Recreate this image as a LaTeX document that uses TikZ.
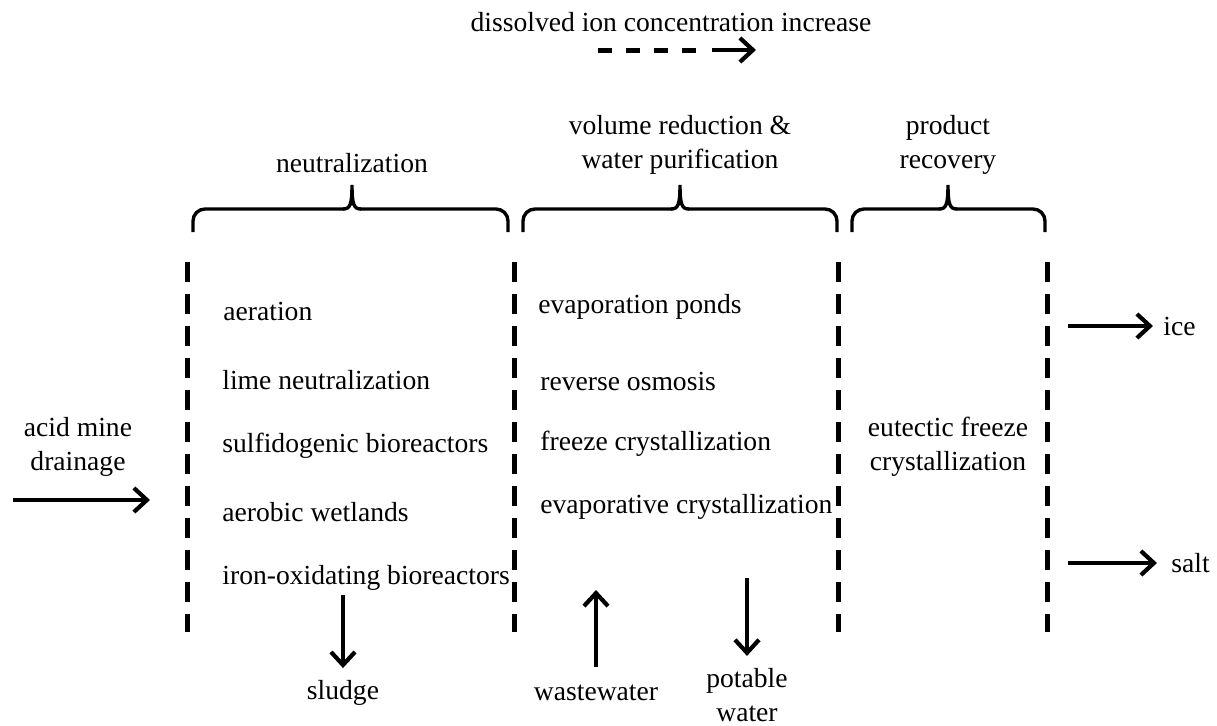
\documentclass[tikz,border=0pt]{standalone}
\usepackage{fontspec}
\setmainfont{Liberation Serif}
\usetikzlibrary{arrows.meta}
\tikzset{
  lbl/.style={font=\fontsize{13.8pt}{17pt}\selectfont, inner sep=0pt, align=center},
  item/.style={lbl, anchor=west},
  stagebrace/.style={line width=1.7pt, rounded corners=6pt},
  divider/.style={line width=2.5pt, dash pattern=on 10pt off 6pt},
  flowarrow/.style={-{Straight Barb[length=6.5pt,width=12pt,line width=2.1pt]}, line width=1.8pt}
}
% one curly bracket over a stage: left x, right x, tip x
\newcommand{\stagebr}[3]{%
  \draw[stagebrace] (#1,232) |- (#3-8,209);
  \draw[stagebrace] (#2,232) |- (#3+8,209);
  \draw[line width=1.7pt] (#3-9,209) .. controls (#3-2,209) and (#3,205) .. (#3,185)
    .. controls (#3,205) and (#3+2,209) .. (#3+9,209);
}
\begin{document}
\begin{tikzpicture}[x=0.5pt, y=-0.5pt]
  \useasboundingbox (0,0) rectangle (1217,725);

  % trend arrow
  \node[lbl] (trend) at (671,22) {dissolved ion concentration increase};
  \coordinate (t0) at (598,50);
  \coordinate (t1) at (700,50);
  \coordinate (t2) at (756,50);
  \draw[line width=2.5pt, dash pattern=on 7pt off 7pt] (t0) -- (t1);
  \draw[flowarrow] ([xshift=6pt]t1) -- (t2);

  % stage brackets
  \stagebr{193}{508}{352}
  \stagebr{523}{837}{680}
  \stagebr{852}{1045}{948}
  \node[lbl] (neut) at (352,163) {neutralization};
  \node[lbl] (vol) at (680,145) {volume reduction \&\\water purification};
  \node[lbl] (prod) at (948,145) {product\\recovery};

  % stage dividers
  \foreach \name/\x in {d1/187, d2/514, d3/838, d4/1047} {
    \coordinate (\name top) at (\x,262);
    \coordinate (\name bot) at (\x,632);
    \draw[divider] (\name top) -- (\name bot);
  }

  % neutralization options
  \node[item] (aer) at (223,311) {aeration};
  \node[item] (lime) at (222,380) {lime neutralization};
  \node[item] (sulf) at (222,446) {sulfidogenic bioreactors};
  \node[item] (wet) at (222,512) {aerobic wetlands};
  \node[item] (iron) at (222,578) {iron-oxidating bioreactors};

  % volume reduction options
  \node[item] (pond) at (538,307) {evaporation ponds};
  \node[item] (ro) at (540,381) {reverse osmosis};
  \node[item] (fc) at (540,444) {freeze crystallization};
  \node[item] (ec) at (540,507) {evaporative crystallization};

  % product recovery
  \node[lbl] (efc) at (948,447) {eutectic freeze\\crystallization};

  % inputs and outputs
  \node[lbl] (amd) at (78,447) {acid mine\\drainage};
  \coordinate (amd0) at (13,500);
  \coordinate (amd1) at (150,500);
  \draw[flowarrow] (amd0) -- (amd1);

  \node[lbl] (sludge) at (343,693) {sludge};
  \draw[flowarrow] (sludge.north |- 0,595) -- ([yshift=6pt]sludge.north);

  \node[lbl] (ww) at (596,693) {wastewater};
  \draw[flowarrow] ([yshift=9pt]ww.north) -- (ww.north |- 0,590);

  \node[lbl] (pot) at (747,695) {potable\\water};
  \draw[flowarrow] (pot.north |- 0,578) -- ([yshift=6pt]pot.north);

  \node[lbl, anchor=west] (ice) at (1163,326) {ice};
  \draw[flowarrow] (ice.west -| 1068,0) -- ([xshift=-5pt]ice.west);

  \node[lbl, anchor=west] (salt) at (1171,563) {salt};
  \draw[flowarrow] (salt.west -| 1068,0) -- ([xshift=-7pt]salt.west);
\end{tikzpicture}
\end{document}
